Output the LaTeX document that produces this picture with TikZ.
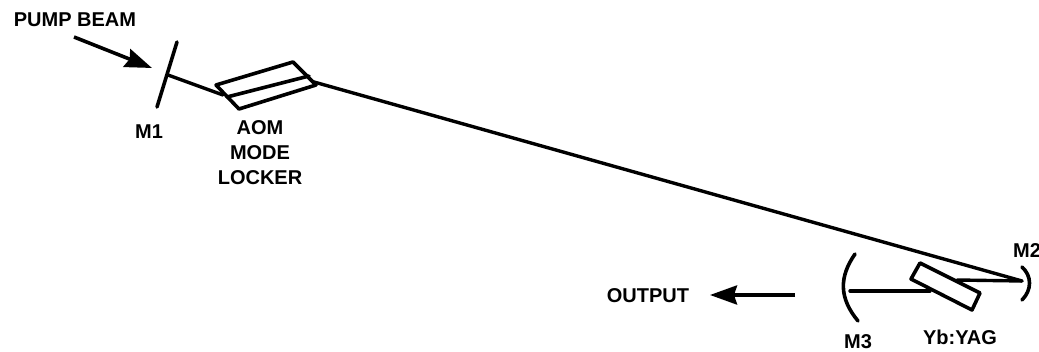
\documentclass[tikz,border=0pt]{standalone}
\usepackage{fontspec}
\setmainfont{Liberation Sans}
\usetikzlibrary{arrows.meta}
\tikzset{
  beam/.style={line width=3.4pt,line cap=round,line join=round},
  part/.style={line width=3.6pt,line cap=round,line join=round},
  bigarrow/.style={line width=3.6pt,-{Stealth[length=27pt,width=19pt,inset=3pt]}},
  lbl/.style={inner sep=0pt,font=\fontsize{20}{20}\bfseries\selectfont,text=black},
}
\begin{document}
\begin{tikzpicture}[x=1pt,y=-1pt]
\useasboundingbox (0,0) rectangle (1039,352);
% labels
\node[lbl] (pump) at (75,20) {PUMP BEAM};
\node[lbl] (m1) at (149,132) {M1};
\node[lbl] (aom) at (260,128) {AOM};
\node[lbl] (mode) at (260,153) {MODE};
\node[lbl] (locker) at (260,178) {LOCKER};
\node[lbl,anchor=west] (m2) at (1013,251) {M2};
\node[lbl] (m3) at (858,342) {M3};
\node[lbl] (yag) at (960,337) {Yb:YAG};
\node[lbl] (output) at (648,296) {OUTPUT};
% points
\coordinate (m1a) at (177,42);
\coordinate (m1b) at (157,107);
\coordinate (m1c) at (168,75);
\coordinate (ao1) at (216,85);
\coordinate (ao2) at (293,62);
\coordinate (ao3) at (316,85);
\coordinate (ao4) at (239,109);
\coordinate (aoin) at (223,95);
\coordinate (aomida) at (227,97);
\coordinate (aomidb) at (309,76);
\coordinate (aoout) at (314,82);
\coordinate (m2c) at (1022,281);
\coordinate (ya) at (920,263);
\coordinate (yb) at (980,293);
\coordinate (yc) at (972,310);
\coordinate (yd) at (911,279);
\coordinate (yr) at (957,280);
\coordinate (yl) at (930,291);
\coordinate (m3c) at (850,291);
\coordinate (pa) at (74,37);
\coordinate (pb) at (152,68);
\coordinate (oa) at (795,295);
\coordinate (ob) at (710,295);
% arrows
\draw[bigarrow] (pa) -- (pb);
\draw[bigarrow] (oa) -- (ob);
% mirrors
\draw[part] (m1a) -- (m1b);
\draw[part] (1022,267) .. controls (1032,276) and (1032,290) .. (1022,300);
\draw[part] (855,254) .. controls (839,277) and (839,298) .. (858,321);
% beams
\draw[beam] (m1c) -- (aoin);
\draw[beam] (aoout) -- (m2c);
\draw[beam] (m2c) -- (yr);
\draw[beam] (yl) -- (m3c);
% AOM
\draw[part] (ao1) -- (ao2) -- (ao3) -- (ao4) -- cycle;
\draw[part] (aomida) -- (aomidb);
% crystal
\draw[part] (ya) -- (yb) -- (yc) -- (yd) -- cycle;
\end{tikzpicture}
\end{document}
